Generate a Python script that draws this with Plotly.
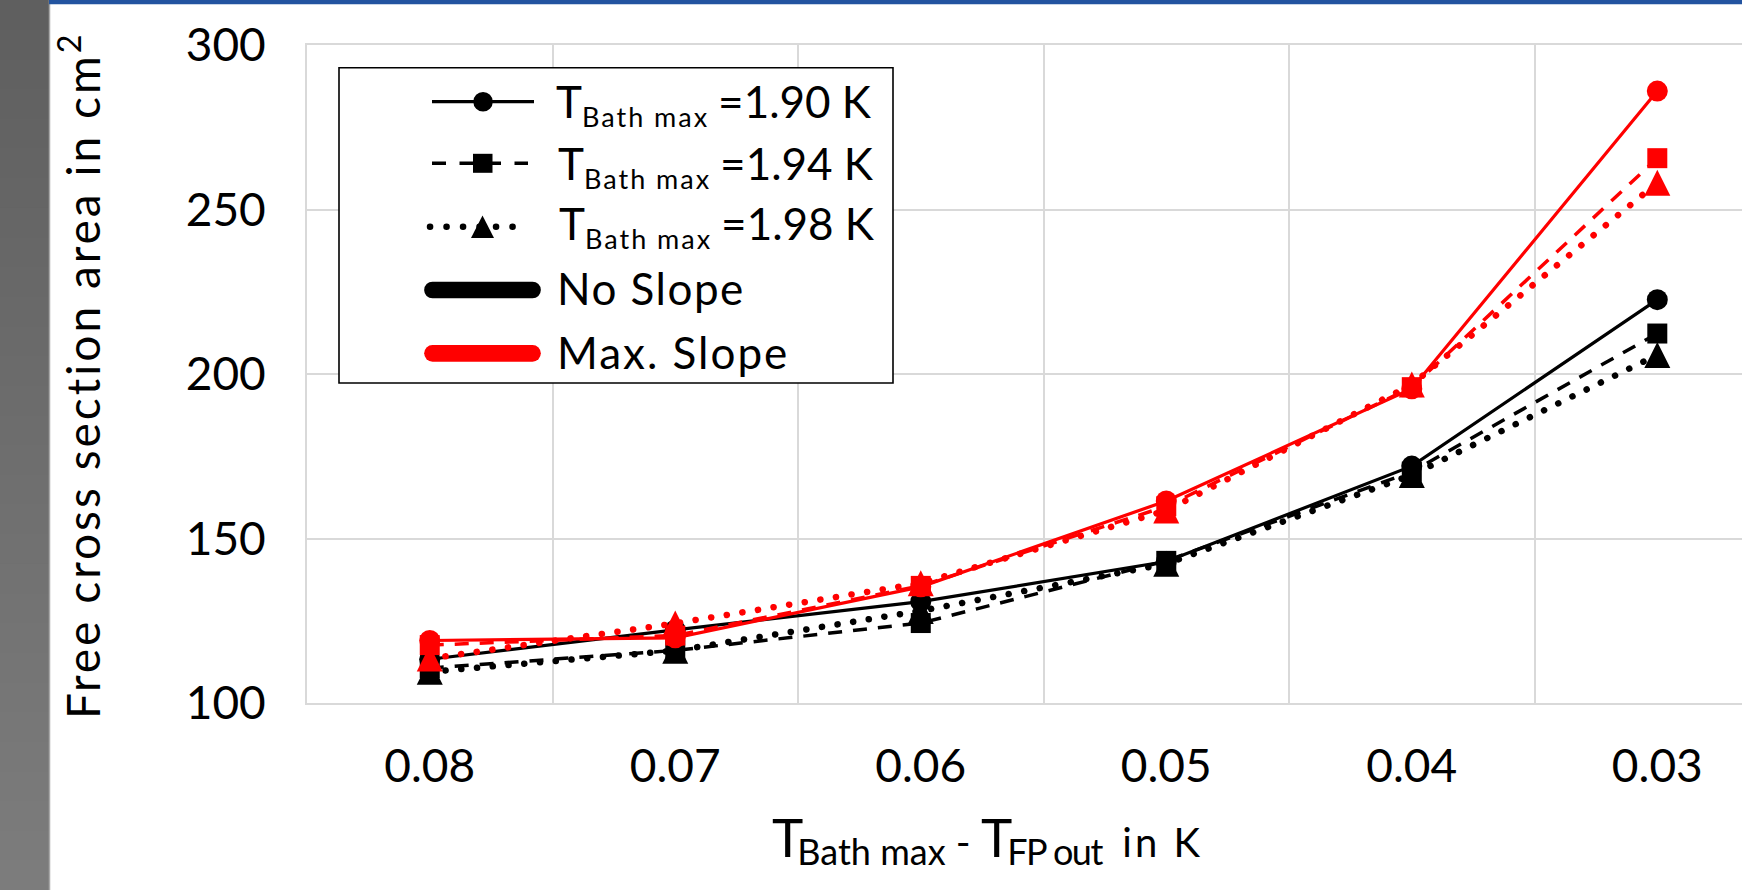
import plotly.graph_objects as go

# ---------------- data ----------------
categories = ["0.08", "0.07", "0.06", "0.05", "0.04", "0.03"]
y_ticks = [100, 150, 200, 250, 300]

no_slope_190 = [113.3, 122.2, 130.8, 143.0, 172.0, 222.6]
no_slope_194 = [110.6, 116.0, 124.3, 143.2, 170.3, 212.3]
no_slope_198 = [109.5, 115.9, 128.0, 142.3, 169.3, 205.8]
max_slope_190 = [119.0, 119.8, 135.3, 161.4, 195.5, 286.0]
max_slope_194 = [117.6, 120.5, 135.6, 159.8, 196.0, 265.6]
max_slope_198 = [113.5, 124.2, 136.4, 158.5, 196.8, 258.1]

legend_labels = ["=1.90 K", "=1.94 K", "=1.98 K"]
slope_labels = ["No Slope", "Max. Slope"]

# ---------------- geometry / style ----------------
W, H = 1742, 890
PL, PT, PB = 307, 45, 703          # plot box (px)
FONT = "Lato, 'Open Sans', sans-serif"
BLACK, RED, GRID = "#000000", "#FF0000", "#D9D9D9"


def fx(px):
    return (px - PL) / (W - PL)


def fy(py):
    return (PB - py) / (PB - PT)


styles = {
    "solid": dict(width=3.2, dash="solid"),
    "dash": dict(width=3.5, dash="14px,11px"),
    "dot": dict(width=6.5, dash="6.5px,9.2px"),
}
markers = {
    "circle": dict(symbol="circle", size=21),
    "square": dict(symbol="square", size=20),
    "triangle": dict(symbol="arrow-down", size=26, angle=180, standoff=13),
}

series = [
    ("No slope, 1.90 K", no_slope_190, BLACK, "solid", "circle"),
    ("No slope, 1.94 K", no_slope_194, BLACK, "dash", "square"),
    ("No slope, 1.98 K", no_slope_198, BLACK, "dot", "triangle"),
    ("Max. slope, 1.90 K", max_slope_190, RED, "solid", "circle"),
    ("Max. slope, 1.94 K", max_slope_194, RED, "dash", "square"),
    ("Max. slope, 1.98 K", max_slope_198, RED, "dot", "triangle"),
]

fig = go.Figure()
dotted_idx = []
for i, (name, vals, col, ls, mk) in enumerate(series):
    if ls == "dot":
        dotted_idx.append(i)
    fig.add_trace(go.Scatter(
        x=categories, y=vals, name=name, mode="lines+markers",
        line=dict(color=col, **styles[ls]),
        marker=dict(color=col, line=dict(width=0), **markers[mk]),
        showlegend=False, hoverinfo="x+y+name",
    ))

# ---------------- decorations ----------------
shapes = []
# left grey bar (vertical gradient)
N = 30
for i in range(N):
    t = (i + 0.5) / N
    g = int(round(95 + t * (124 - 95)))
    shapes.append(dict(type="rect", xref="paper", yref="paper",
                       x0=fx(0), x1=fx(49), y0=fy(i * H / N), y1=fy((i + 1) * H / N + 1),
                       fillcolor=f"rgb({g},{g},{g})", line=dict(width=0), layer="above"))
shapes.append(dict(type="line", xref="paper", yref="paper", x0=fx(49.5), x1=fx(49.5),
                   y0=fy(0), y1=fy(H), line=dict(color="#A8A8A8", width=1.5), layer="above"))
# top blue bar
shapes.append(dict(type="rect", xref="paper", yref="paper", x0=fx(49), x1=fx(W),
                   y0=fy(0), y1=fy(4.2), fillcolor="#2354A0", line=dict(width=0), layer="above"))

# legend box
shapes.append(dict(type="rect", xref="paper", yref="paper", x0=fx(339), x1=fx(893),
                   y0=fy(67.7), y1=fy(383), fillcolor="white",
                   line=dict(color="black", width=1.6), layer="above"))

rows_y = [101.7, 163.3, 226.7, 290.0, 353.3]
# row 1: solid + circle
shapes.append(dict(type="line", xref="paper", yref="paper", x0=fx(432), x1=fx(534),
                   y0=fy(rows_y[0]), y1=fy(rows_y[0]), line=dict(color=BLACK, width=3.2), layer="above"))
shapes.append(dict(type="circle", xref="paper", yref="paper", x0=fx(473.3), x1=fx(492.8),
                   y0=fy(rows_y[0] - 9.8), y1=fy(rows_y[0] + 9.8), fillcolor=BLACK,
                   line=dict(width=0), layer="above"))
# row 2: dashed + square
shapes.append(dict(type="line", xref="paper", yref="paper", x0=fx(432), x1=fx(528),
                   y0=fy(rows_y[1]), y1=fy(rows_y[1]),
                   line=dict(color=BLACK, width=3.5, dash="14px,13.5px"), layer="above"))
shapes.append(dict(type="rect", xref="paper", yref="paper", x0=fx(473), x1=fx(492.5),
                   y0=fy(rows_y[1] - 9.5), y1=fy(rows_y[1] + 9.5), fillcolor=BLACK,
                   line=dict(width=0), layer="above"))
# row 3: dotted + triangle
legend_dot_index = len(shapes)
shapes.append(dict(type="line", xref="paper", yref="paper", x0=fx(430), x1=fx(527),
                   y0=fy(rows_y[2]), y1=fy(rows_y[2]),
                   line=dict(color=BLACK, width=6.5, dash="6.5px,10px"), layer="above"))
ty = rows_y[2]
shapes.append(dict(type="path", xref="paper", yref="paper",
                   path=f"M {fx(482.5)} {fy(ty - 11.3)} L {fx(494)} {fy(ty + 11.3)} L {fx(471)} {fy(ty + 11.3)} Z",
                   fillcolor=BLACK, line=dict(width=0), layer="above"))
# rows 4,5: thick lines
thick_index = []
for r, col in ((3, BLACK), (4, RED)):
    thick_index.append(len(shapes))
    shapes.append(dict(type="line", xref="paper", yref="paper", x0=fx(432.5), x1=fx(532.5),
                       y0=fy(rows_y[r]), y1=fy(rows_y[r]), line=dict(color=col, width=16.7),
                       layer="above"))

# ---------------- text ----------------
annotations = []


def ann(text, px, py, size, xanchor="left", angle=0):
    annotations.append(dict(text=text, x=fx(px), y=fy(py), xref="paper", yref="paper",
                            xanchor=xanchor, yanchor="middle", showarrow=False,
                            textangle=angle, borderpad=0, borderwidth=0,
                            font=dict(family=FONT, size=size, color="black")))


# legend texts (T with subscript, then value)
SUB_L = '<sub><span style="font-size:27px;letter-spacing:2px">Bath max </span></sub>'
legend_mid = [104.1, 165.8, 225.8]
legend_x = [556, 557.5, 559]
for i in range(3):
    ann("T" + SUB_L + legend_labels[i], legend_x[i], legend_mid[i], 44)
ann(f'<span style="letter-spacing:1.5px">{slope_labels[0]}</span>', 557, 287.6, 44)
ann(f'<span style="letter-spacing:2px">{slope_labels[1]}</span>', 557, 352.0, 44)

# y-axis title
ann('<span style="letter-spacing:3px">Free cross section area in cm</span><sup>2</sup>',
    79, 377, 46, xanchor="center", angle=-90)

# x-axis title
x_title = ('<span style="font-size:53px;letter-spacing:-6px">T</span>'
           '<sub><span style="font-size:36px">Bath max</span></sub>'
           ' - <span style="font-size:53px;letter-spacing:-5px">T</span>'
           '<sub><span style="font-size:36px;letter-spacing:-1.5px">FP out</span></sub>'
           '  <span style="letter-spacing:3px">in K</span>')
ann(x_title, 772, 838.5, 40)

fig.update_layout(
    width=W, height=H,
    margin=dict(l=PL, r=0, t=PT, b=H - PB, autoexpand=False),
    paper_bgcolor="white", plot_bgcolor="white",
    font=dict(family=FONT, color="black"),
    shapes=shapes, annotations=annotations,
    showlegend=False,
    xaxis=dict(type="category", categoryorder="array", categoryarray=categories,
               range=[-0.5, 5.345], tickson="boundaries", ticks="",
               showgrid=True, gridcolor=GRID, gridwidth=2,
               showline=True, linecolor=GRID, linewidth=2, mirror=True,
               tickfont=dict(family=FONT, size=46, color="black"),
               ticklabelstandoff=22, fixedrange=True, zeroline=False),
    yaxis=dict(range=[100, 300], tickvals=y_ticks, ticktext=[str(v) for v in y_ticks],
               showgrid=True, gridcolor=GRID, gridwidth=2, ticks="",
               showline=True, linecolor=GRID, linewidth=2, zeroline=False,
               tickfont=dict(family=FONT, size=46, color="black"),
               ticklabelstandoff=30, fixedrange=True),
)

post = """
document.body.style.margin='0';
document.body.style.overflow='hidden';
var gd=document.getElementById('{plot_id}');
var dotted=%s, thick=%s, ldot=%d;
gd.querySelectorAll('.scatterlayer .trace').forEach(function(t,i){
  if(dotted.indexOf(i)>=0){
    t.querySelectorAll('path.js-line').forEach(function(p){
      p.style.strokeLinecap='round'; p.style.strokeDasharray='0.1px,15.7px';});
  }
});
gd.querySelectorAll('.shapelayer path').forEach(function(p){
  var k=parseInt(p.getAttribute('data-index'));
  if(thick.indexOf(k)>=0){p.style.strokeLinecap='round';}
  if(k===ldot){p.style.strokeLinecap='round'; p.style.strokeDasharray='0.1px,16.4px';}
});
""" % (str(dotted_idx), str(thick_index), legend_dot_index)

fig.write_html("out.html", post_script=post, config={"displayModeBar": False})
